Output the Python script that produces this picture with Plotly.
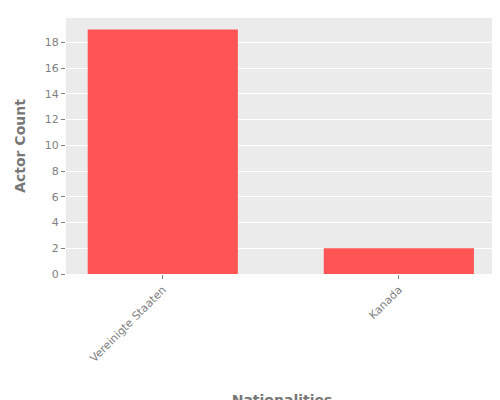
import plotly.graph_objects as go

nationalities = ["Vereinigte Staaten", "Kanada"]
actor_counts = [19, 2]

fig = go.Figure(go.Bar(
    x=nationalities, y=actor_counts,
    marker=dict(color="#FF5555", line=dict(width=0)),
    width=0.636,
))

fig.update_layout(
    width=500, height=400,
    margin=dict(l=58, r=10, t=10, b=134, autoexpand=False),
    paper_bgcolor="white",
    plot_bgcolor="#EBEBEB",
    font=dict(family="DejaVu Sans", color="#7F7F7F", size=11),
    showlegend=False,
)
fig.update_xaxes(
    title=dict(text="<b>Nationalities</b>", font=dict(size=14, color="#777777"), standoff=45),
    tickangle=-45, range=[-0.41, 1.42], automargin=False,
    ticks="outside", ticklen=4, tickcolor="#7F7F7F",
    showgrid=False,
)
fig.update_yaxes(
    title=dict(text="<b>Actor Count</b>", font=dict(size=14, color="#777777")),
    range=[0, 19.9], dtick=2, automargin=False,
    ticks="outside", ticklen=4, tickcolor="#7F7F7F",
    gridcolor="white", zeroline=False,
)

fig.write_html("out.html")
